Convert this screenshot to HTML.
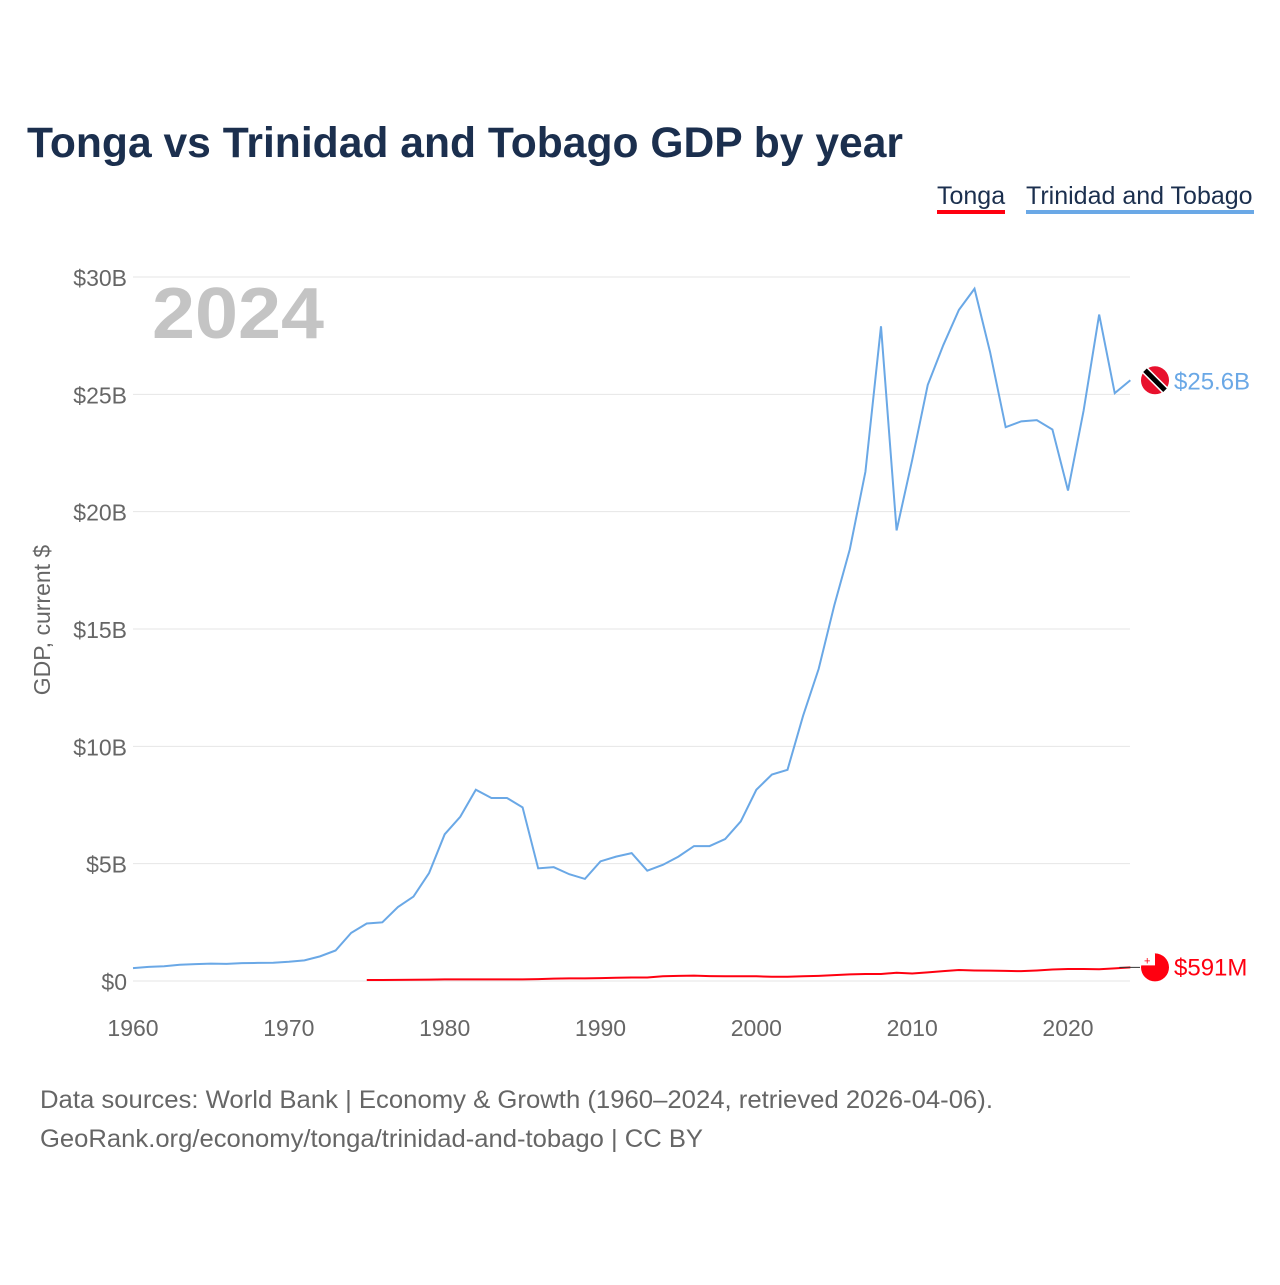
<!DOCTYPE html>
<html><head><meta charset="utf-8"><style>
body{margin:0;background:#fff;width:1280px;height:1280px;overflow:hidden;font-family:"Liberation Sans",sans-serif}
</style></head><body>
<svg width="1280" height="1280" xmlns="http://www.w3.org/2000/svg">
<text x="27" y="157" font-size="43" font-weight="bold" fill="#1b2f4e" textLength="876" lengthAdjust="spacingAndGlyphs">Tonga vs Trinidad and Tobago GDP by year</text>
<g><text x="937" y="204" font-size="25" fill="#1b2f4e">Tonga</text><rect x="937" y="210" width="68" height="4" fill="#ff0010"/></g>
<g><text x="1026" y="204" font-size="25" fill="#1b2f4e">Trinidad and Tobago</text><rect x="1026" y="210" width="228" height="4" fill="#6aa8e6"/></g>
<text x="152" y="338" font-size="72" font-weight="bold" fill="#c4c4c4" textLength="172" lengthAdjust="spacingAndGlyphs">2024</text>
<text transform="translate(50,620) rotate(-90)" text-anchor="middle" font-size="23" fill="#666">GDP, current $</text>
<g id="grid"></g><g id="xt"></g>
<polyline id="tt" fill="none" stroke="#6aa8e6" stroke-width="2"/>
<polyline id="to" fill="none" stroke="#ff0010" stroke-width="2"/>
<g id="ends"></g>
<text x="40" y="1108" font-size="25" fill="#666" textLength="953" lengthAdjust="spacingAndGlyphs">Data sources: World Bank | Economy &amp; Growth (1960–2024, retrieved 2026-04-06).</text>
<text x="40" y="1147" font-size="25" fill="#666" textLength="663" lengthAdjust="spacingAndGlyphs">GeoRank.org/economy/tonga/trinidad-and-tobago | CC BY</text>
</svg>
<script>
const yTicks=[0,5,10,15,20,25,30];
const xTicks=[1960,1970,1980,1990,2000,2010,2020];
const ttStart=1960;
const ttValues=[0.55,0.6,0.63,0.69,0.72,0.74,0.73,0.76,0.77,0.78,0.82,0.88,1.05,1.3,2.05,2.45,2.5,3.15,3.6,4.6,6.25,7.0,8.15,7.8,7.8,7.4,4.8,4.85,4.55,4.35,5.1,5.3,5.45,4.7,4.95,5.3,5.75,5.75,6.05,6.8,8.15,8.8,9.0,11.3,13.3,16.0,18.4,21.7,27.9,19.2,22.2,25.4,27.1,28.6,29.5,26.8,23.6,23.85,23.9,23.5,20.9,24.3,28.4,25.05,25.6];
const toStart=1975;
const toValues=[0.04,0.045,0.05,0.055,0.06,0.07,0.07,0.07,0.07,0.07,0.07,0.08,0.1,0.11,0.11,0.12,0.14,0.15,0.15,0.2,0.22,0.23,0.21,0.2,0.2,0.2,0.18,0.18,0.2,0.22,0.25,0.28,0.3,0.3,0.35,0.32,0.37,0.42,0.47,0.45,0.44,0.43,0.42,0.45,0.49,0.51,0.51,0.5,0.54,0.58];
const ttLabel="$25.6B", toLabel="$591M";
const X=y=>133+(y-1960)*935/60, Y=v=>981-v*704/30;
const ns="http://www.w3.org/2000/svg";
function mk(t,a,p){const e=document.createElementNS(ns,t);for(const k in a)e.setAttribute(k,a[k]);p.appendChild(e);return e;}
const g=document.getElementById('grid');
yTicks.forEach(v=>{const l=mk('line',{x1:133,x2:1130,y1:Y(v),y2:Y(v),stroke:'#e6e6e6','stroke-width':1},g);


const t=mk('text',{x:127,y:Y(v)+9,'text-anchor':'end','font-size':23,fill:'#666'},g);t.textContent='$'+v+(v?'B':'');

});
const xt=document.getElementById('xt');
xTicks.forEach(v=>{const t=mk('text',{x:X(v),y:1036,'text-anchor':'middle','font-size':23,fill:'#666'},xt);t.textContent=v;

});
document.getElementById('tt').setAttribute('points',ttValues.map((v,i)=>X(ttStart+i)+','+Y(v)).join(' '));
document.getElementById('to').setAttribute('points',toValues.map((v,i)=>X(toStart+i)+','+Y(v)).join(' '));
const en=document.getElementById('ends');
const ttv=ttValues[ttValues.length-1], tov=toValues[toValues.length-1];
const c1=mk('circle',{cx:1155,cy:Y(ttv),r:14,fill:'#e8112d'},en);


mk('line',{x1:1145,y1:Y(ttv)-10,x2:1165,y2:Y(ttv)+10,stroke:'#fff','stroke-width':8},en);
mk('line',{x1:1145,y1:Y(ttv)-10,x2:1165,y2:Y(ttv)+10,stroke:'#000','stroke-width':5},en);
const t1=mk('text',{x:1174,y:Y(ttv)+9,'font-size':24,fill:'#6aa8e6'},en);t1.textContent=ttLabel;


mk('line',{x1:X(2023.3),y1:Y(tov),x2:1140,y2:Y(tov),stroke:'#333','stroke-width':1},en);
const c2=mk('circle',{cx:1155,cy:Y(tov),r:14,fill:'#ff0010'},en);


mk('rect',{x:1141,y:Y(tov)-14,width:14,height:12,fill:'#fff'},en);
mk('text',{x:1144,y:Y(tov)-3,'font-size':11,fill:'#ff0010'},en).textContent='+';
const t2=mk('text',{x:1174,y:Y(tov)+8,'font-size':24,fill:'#ff0010'},en);t2.textContent=toLabel;


</script>
</body></html>
